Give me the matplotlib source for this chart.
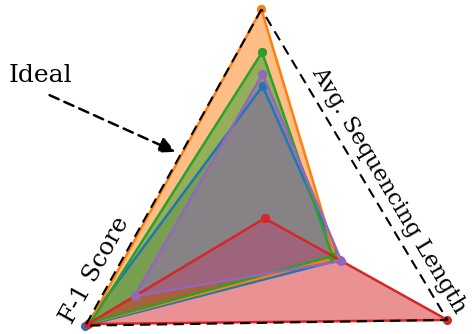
import numpy as np
import matplotlib
matplotlib.use("Agg")
import matplotlib.pyplot as plt

# Normalised scores on the three radial axes (top, lower-left, lower-right)
axis_angles_deg = [0, 120, 240]
ideal = [1.0, 1.0, 1.0]
blue_vals = [0.633, 1.0, 0.41]
orange_vals = [1.0, 0.98, 0.39]
green_vals = [0.795, 0.97, 0.37]
red_vals = [0.0, 0.985, 1.0]
purple_vals = [0.69, 0.726, 0.42]

series = [
    (blue_vals, "tab:blue"),
    (orange_vals, "tab:orange"),
    (green_vals, "tab:green"),
    (red_vals, "tab:red"),
    (purple_vals, "tab:purple"),
]

edge_labels = ["F-1 Score", "Avg. Sequencing Length"]
ideal_label = "Ideal"

W, H = 475, 334
fig = plt.figure(figsize=(W / 100, H / 100), dpi=100)

# Polar axes: centre at (264.7, 218.3) px, radius 209 px
cx, cy, R = 264.7, 218.3, 209.0
ax = fig.add_axes([(cx - R) / W, (H - cy - R) / H, 2 * R / W, 2 * R / H],
                  projection="polar")
ax.set_theta_offset(np.deg2rad(90.9))
ax.set_ylim(0, 1)
ax.set_axis_off()

theta = np.deg2rad(axis_angles_deg)
th_closed = np.append(theta, theta[0])

def closed(v):
    return np.append(v, v[0])

for vals, col in series:
    ax.fill(th_closed, closed(vals), color=col, alpha=0.5, lw=0, clip_on=False)
    ax.plot(th_closed, closed(vals), color=col, lw=1.8, marker="o",
            markersize=5.5, clip_on=False)

ax.plot(th_closed, closed(ideal), color="black", lw=1.5,
        dashes=(5, 3), clip_on=False)

# Overlay in pixel coordinates for labels and the annotation arrow
ov = fig.add_axes([0, 0, 1, 1])
ov.set_xlim(0, W)
ov.set_ylim(H, 0)
ov.set_axis_off()

font = "DejaVu Serif"
ov.text(95, 270, edge_labels[0], rotation=61, ha="center", va="center",
        fontsize=17.5, family=font)
ov.text(389, 190, edge_labels[1], rotation=-59.3, ha="center", va="center",
        fontsize=16.5, family=font)
ov.text(40, 76, ideal_label, ha="center", va="center", fontsize=18,
        family=font)
ov.annotate("", xy=(178, 153), xytext=(47, 94),
            arrowprops=dict(arrowstyle="-|>", color="black", lw=1.8,
                            linestyle=(0, (4, 2.5)), mutation_scale=24))

fig.savefig("out.png", dpi=100)
